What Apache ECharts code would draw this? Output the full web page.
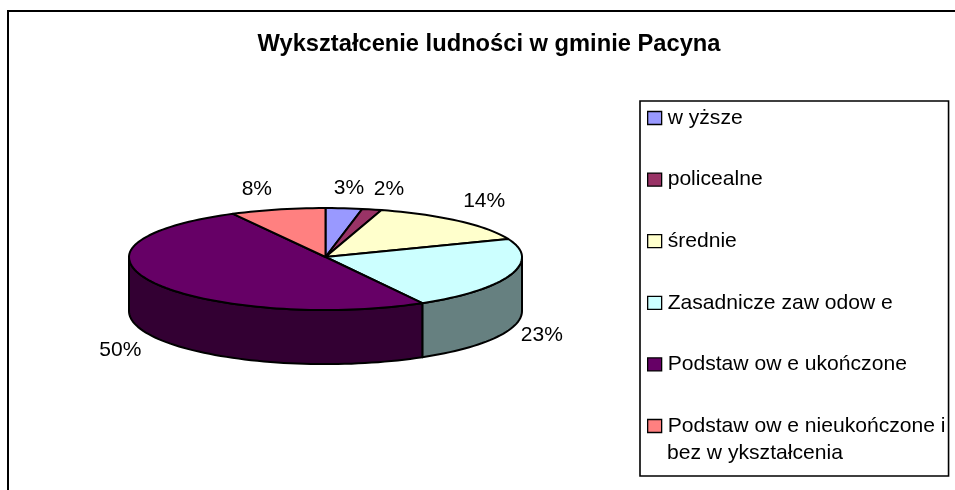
<!DOCTYPE html>
<html><head><meta charset="utf-8">
<style>html,body{margin:0;padding:0;background:#fff}#c{width:955px;height:490px}</style>
<script src="https://cdn.jsdelivr.net/npm/echarts@6/dist/echarts.min.js"></script>
</head><body><div id="c"></div>
<script>
const categories = ['w yższe','policealne','średnie','Zasadnicze zaw odow e','Podstaw ow e ukończone','Podstaw ow e nieukończone i'];
const lastLegendLine = 'bez w ykształcenia';
const values = [3.0,1.6,14.4,22.8,50.4,7.8];
const topColors = ['#9999FF','#993366','#FFFFCC','#CCFFFF','#660066','#FF8080'];
const sideColors = ['#4D4D80','#4D1A33','#808066','#668080','#330033','#804040'];
const labelNudge = [[5,-20],[17,-20],[26,-20],[31,61],[-33,68],[-21,-20]];
const titleText = 'Wykształcenie ludności w gminie Pacyna';
const FONT = '"Liberation Sans", Arial, sans-serif';
const total = values.reduce((a,b)=>a+b,0);
const starts = values.map((_,i)=>values.slice(0,i).reduce((a,b)=>a+b,0)/total*360);
const DEPTH = 1.06, STEP = 2, rad = Math.PI/180, BACK = 0.96, FRONT = 1.04;
function rim(t){const c=Math.cos(t);return [Math.sin(t),c*(c>0?BACK:FRONT)];}
function arc(api,a,b,dy){const p=[];const n=Math.max(1,Math.ceil((b-a)/STEP));
 for(let k=0;k<=n;k++){const q=rim((a+(b-a)*k/n)*rad);p.push(api.coord([q[0],q[1]-dy]));}return p;}
const line={stroke:'#000',lineWidth:2,lineJoin:'round'};
const series=categories.map((name,i)=>({
 type:'custom',name,coordinateSystem:'cartesian2d',z:2,
 itemStyle:{color:topColors[i]},
 data:[[values[i]]],
 renderItem(params,api){
  const a=starts[i],b=a+api.value(0)/total*360,children=[];
  const fa=Math.max(a,90),fb=Math.min(b,270);
  if(fb>fa){const pts=arc(api,fa,fb,0).concat(arc(api,fa,fb,DEPTH).reverse());
   children.push({type:'polygon',shape:{points:pts},style:{fill:sideColors[i],...line}});}
  const c=api.coord([0,0]);
  children.push({type:'polygon',shape:{points:[c].concat(arc(api,a,b,0))},style:{fill:topColors[i],...line}});
  const r=api.coord(rim((a+b)/2*rad));
  children.push({type:'text',x:r[0]+labelNudge[i][0],y:r[1]+labelNudge[i][1],
   style:{text:Math.round(values[i]/total*100)+'%',fill:'#000',font:'21px '+FONT,align:'center',verticalAlign:'middle'}});
  return {type:'group',children};
 }
}));
const chart=echarts.init(document.getElementById('c'),null,{renderer:'canvas'});
chart.setOption({
 animation:false,backgroundColor:'#fff',
 title:{text:titleText,left:484,top:27,textAlign:'center',textStyle:{fontFamily:FONT,fontSize:23.7,fontWeight:'bold',color:'#000'}},
 grid:{left:129,width:393,top:206,height:102},
 xAxis:{type:'value',min:-1,max:1,show:false},
 yAxis:{type:'value',min:-1,max:1,show:false},
 legend:{orient:'vertical',left:640,top:101,height:800,padding:[3,3,36,7],align:'left',selectedMode:false,
  borderColor:'#000',borderWidth:1.6,backgroundColor:'#fff',itemWidth:14,itemHeight:13,itemGap:33.6,
  itemStyle:{borderColor:'#000',borderWidth:1.3},
  textStyle:{fontFamily:FONT,fontSize:21.1,color:'#000',lineHeight:28,padding:[0,0,0,1]},
  data:categories.map(name=>({name,icon:'rect'}))},
 graphic:[
  {type:'polyline',silent:true,shape:{points:[[8,490],[8,11],[955,11]]},style:{stroke:'#000',lineWidth:2,fill:'none'}},
  {type:'text',silent:true,z:100,x:667,y:453,style:{text:lastLegendLine,fill:'#000',font:'21.1px '+FONT,verticalAlign:'middle'}}
 ],
 series
});
</script></body></html>
